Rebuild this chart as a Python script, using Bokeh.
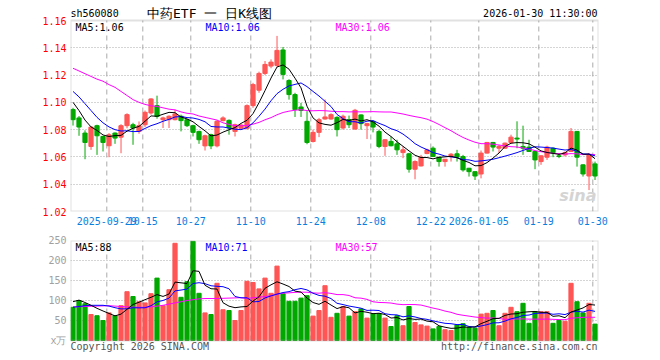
import numpy as np
from bokeh.plotting import figure
from bokeh.layouts import column
from bokeh.models import Range1d, FixedTicker, PrintfTickFormatter, Label, ColumnDataSource, BoxAnnotation
from bokeh.embed import file_html
from bokeh.resources import INLINE

# ---------------- data ----------------
dates = (
    ["2025-09-%02d" % d for d in [19, 22, 23, 24, 25, 26, 29, 30]]
    + ["2025-10-%02d" % d for d in [9, 10, 13, 14, 15, 16, 17, 20, 21, 22, 23, 24, 27, 28, 29, 30, 31]]
    + ["2025-11-%02d" % d for d in [3, 4, 5, 6, 7, 10, 11, 12, 13, 14, 17, 18, 19, 20, 21, 24, 25, 26, 27, 28]]
    + ["2025-12-%02d" % d for d in [1, 2, 3, 4, 5, 8, 9, 10, 11, 12, 15, 16, 17, 18, 19, 22, 23, 24, 25, 26, 29, 30, 31]]
    + ["2026-01-%02d" % d for d in [5, 6, 7, 8, 9, 12, 13, 14, 15, 16, 19, 20, 21, 22, 23, 26, 27, 28, 29, 30]]
)

opens = [1.0947, 1.0886, 1.0775, 1.0677, 1.0829, 1.0750, 1.0682, 1.0775, 1.0745, 1.0829,
         1.0836, 1.0787, 1.0836, 1.0922, 1.0976, 1.0873, 1.0873, 1.0873, 1.0898, 1.0873,
         1.0829, 1.0787, 1.0681, 1.0763, 1.0681, 1.0866, 1.0868, 1.0787, 1.0810, 1.0810,
         1.0976, 1.1089, 1.1212, 1.1266, 1.1271, 1.1384, 1.1160, 1.1057, 1.0966, 1.0861,
         1.0713, 1.0780, 1.0878, 1.0878, 1.0890, 1.0812, 1.0873, 1.0804, 1.0908, 1.0829,
         1.0861, 1.0787, 1.0677, 1.0714, 1.0696, 1.0632, 1.0623, 1.0510, 1.0534, 1.0625,
         1.0664, 1.0598, 1.0566, 1.0603, 1.0623, 1.0603, 1.0517, 1.0492, 1.0475, 1.0628,
         1.0706, 1.0664, 1.0664, 1.0706, 1.0738, 1.0677, 1.0672, 1.0640, 1.0566, 1.0598,
         1.0664, 1.0608, 1.0615, 1.0640, 1.0787, 1.0542, 1.0460, 1.0549]
highs = [1.0960, 1.0900, 1.0795, 1.0824, 1.0836, 1.0755, 1.0775, 1.0780, 1.0840, 1.0920,
         1.0850, 1.0860, 1.0940, 1.1030, 1.1049, 1.0895, 1.0905, 1.0947, 1.0910, 1.0878,
         1.0836, 1.0792, 1.0763, 1.0770, 1.0868, 1.0898, 1.0875, 1.0844, 1.0840, 1.0985,
         1.1143, 1.1225, 1.1303, 1.1315, 1.1487, 1.1406, 1.1170, 1.1070, 1.0996, 1.0935,
         1.0800, 1.0886, 1.1021, 1.0920, 1.0898, 1.0910, 1.0903, 1.0952, 1.0912, 1.0850,
         1.0868, 1.0800, 1.0730, 1.0750, 1.0726, 1.0677, 1.0630, 1.0575, 1.0615, 1.0660,
         1.0677, 1.0600, 1.0585, 1.0628, 1.0652, 1.0615, 1.0520, 1.0495, 1.0647, 1.0710,
         1.0710, 1.0689, 1.0705, 1.0763, 1.0861, 1.0829, 1.0726, 1.0645, 1.0612, 1.0682,
         1.0670, 1.0628, 1.0640, 1.0812, 1.0790, 1.0545, 1.0628, 1.0566]
lows = [1.0830, 1.0755, 1.0583, 1.0652, 1.0615, 1.0640, 1.0598, 1.0696, 1.0627, 1.0810,
        1.0689, 1.0770, 1.0820, 1.0910, 1.0880, 1.0812, 1.0812, 1.0868, 1.0787, 1.0819,
        1.0750, 1.0696, 1.0647, 1.0657, 1.0670, 1.0861, 1.0763, 1.0750, 1.0800, 1.0800,
        1.0960, 1.1070, 1.1200, 1.1250, 1.1260, 1.1168, 1.1020, 1.0893, 1.0893, 1.0693,
        1.0706, 1.0745, 1.0873, 1.0873, 1.0750, 1.0800, 1.0812, 1.0800, 1.0800, 1.0731,
        1.0780, 1.0664, 1.0608, 1.0677, 1.0615, 1.0591, 1.0485, 1.0436, 1.0530, 1.0620,
        1.0600, 1.0529, 1.0529, 1.0566, 1.0566, 1.0492, 1.0456, 1.0431, 1.0443, 1.0625,
        1.0640, 1.0628, 1.0660, 1.0700, 1.0664, 1.0615, 1.0640, 1.0510, 1.0542, 1.0578,
        1.0598, 1.0591, 1.0603, 1.0638, 1.0529, 1.0456, 1.0357, 1.0431]
closes = [1.0873, 1.0819, 1.0706, 1.0819, 1.0755, 1.0706, 1.0762, 1.0738, 1.0829, 1.0910,
          1.0812, 1.0829, 1.0927, 1.1025, 1.0897, 1.0886, 1.0898, 1.0915, 1.0866, 1.0829,
          1.0780, 1.0726, 1.0755, 1.0681, 1.0861, 1.0886, 1.0812, 1.0836, 1.0834, 1.0976,
          1.1130, 1.1212, 1.1278, 1.1295, 1.1381, 1.1205, 1.1057, 1.0947, 1.0941, 1.0706,
          1.0780, 1.0873, 1.0893, 1.0910, 1.0800, 1.0898, 1.0836, 1.0942, 1.0844, 1.0844,
          1.0819, 1.0677, 1.0726, 1.0682, 1.0652, 1.0652, 1.0510, 1.0566, 1.0598, 1.0652,
          1.0603, 1.0566, 1.0583, 1.0620, 1.0598, 1.0505, 1.0492, 1.0460, 1.0628, 1.0706,
          1.0672, 1.0677, 1.0701, 1.0745, 1.0731, 1.0664, 1.0640, 1.0578, 1.0608, 1.0672,
          1.0632, 1.0603, 1.0632, 1.0787, 1.0598, 1.0475, 1.0615, 1.0460]
volumes = [83, 100, 92, 65, 62, 50, 69, 62, 87, 122,
           110, 97, 94, 117, 156, 87, 127, 243, 108, 147,
           248, 118, 69, 65, 143, 77, 75, 50, 75, 148,
           145, 129, 156, 118, 186, 117, 98, 98, 106, 112,
           61, 75, 137, 58, 68, 85, 61, 72, 79, 56,
           67, 67, 56, 35, 62, 37, 85, 45, 39, 36,
           29, 35, 27, 25, 39, 42, 33, 31, 66, 68,
           75, 37, 68, 83, 72, 93, 43, 72, 72, 72,
           43, 50, 48, 143, 97, 69, 93, 41]

# moving-average values at the start of the window (history before the first candle)
ma5_head = [1.100, 1.094, 1.087, 1.082]
ma10_head = [1.108, 1.104, 1.099, 1.094, 1.089, 1.085, 1.082, 1.080, 1.079]
ma30_head = [1.125, 1.123, 1.121, 1.119, 1.117, 1.1155, 1.113, 1.111, 1.108, 1.105,
             1.102, 1.100, 1.0985, 1.0975, 1.097, 1.096, 1.095, 1.0945, 1.093, 1.092,
             1.0915, 1.090, 1.089, 1.088, 1.087, 1.085, 1.0838, 1.083, 1.0828]
vma5_head = [97, 101, 95, 88]
vma10_head = [83, 85, 87, 88, 88, 88, 86, 82, 79]
vma30_head = [84, 84.5, 85, 85.5, 86, 86.5, 87, 86, 85, 84,
              83.5, 83, 83, 84, 86, 88, 91, 94, 97, 100,
              102, 104, 105, 105, 105, 105.5, 106, 106.5, 107]

price_ticks = [1.02, 1.04, 1.06, 1.08, 1.10, 1.12, 1.14, 1.16]
vol_ticks = [0, 50, 100, 150, 200, 250]
tick_dates = ["2025-09-29", "2025-10-15", "2025-10-27", "2025-11-10", "2025-11-24",
              "2025-12-08", "2025-12-22", "2026-01-05", "2026-01-19", "2026-01-30"]
tick_labels = ["2025-09-29", "10-15", "10-27", "11-10", "11-24",
               "12-08", "12-22", "2026-01-05", "01-19", "01-30"]
price_ma_text = ["1.06", "1.06", "1.06"]
vol_ma_text = ["88", "71", "57"]

# ---------------- layout constants (pixels) ----------------
UP = "#ff5555"
DOWN = "#00a800"
GRID = "#aaaaaa"
BORDER = "#9a9a9a"
CANDLE_SHIFT = 0.37
FONT = "DejaVu Sans Mono"
HEADER_PX = 20       # header strip above the price panel
PRICE_PX = 191       # price panel height
VOL_PX = 100         # volume panel height
FOOTER_PX = 20       # footer strip below the volume panel

n = len(closes)
idx = np.arange(n)
xs = idx + CANDLE_SHIFT
o = np.array(opens); c = np.array(closes)
colors = [UP if cc >= oo else DOWN for oo, cc in zip(opens, closes)]


def moving(vals, k, head):
    v = np.array(vals, dtype=float)
    out = []
    for i in range(len(v)):
        if i < k - 1:
            out.append(head[i])
        else:
            out.append(v[i - k + 1:i + 1].mean())
    return out


src = ColumnDataSource(dict(
    x=xs, high=highs, low=lows, top=np.maximum(o, c), bottom=np.minimum(o, c),
    color=colors, vol=volumes,
    ma5=moving(closes, 5, ma5_head), ma10=moving(closes, 10, ma10_head), ma30=moving(closes, 30, ma30_head),
    vma5=moving(volumes, 5, vma5_head), vma10=moving(volumes, 10, vma10_head), vma30=moving(volumes, 30, vma30_head),
))

tick_idx = [dates.index(d) for d in tick_dates]

p_lo, p_hi = price_ticks[0], price_ticks[-1]
p_top = p_hi + (p_hi - p_lo) * HEADER_PX / PRICE_PX      # header strip lives inside the frame
v_lo, v_hi = vol_ticks[0], vol_ticks[-1]
v_bot = v_lo - (v_hi - v_lo) * FOOTER_PX / VOL_PX        # footer strip lives inside the frame

common = dict(output_backend="svg", toolbar_location=None, width=660,
              min_border_left=70, min_border_right=62,
              background_fill_color="white", border_fill_color="white")


def style_axis(ax, col):
    ax.axis_line_color = None
    ax.major_tick_line_color = None
    ax.minor_tick_line_color = None
    ax.major_tick_out = 0
    ax.major_tick_in = 0
    ax.major_label_text_color = col
    ax.major_label_text_font = FONT
    ax.major_label_text_font_size = "10px"


def lab(p, x, y, text, color="#000000", size="10px", align="left", baseline="middle", font=FONT, style="normal"):
    p.add_layout(Label(x=x, y=y, x_units="screen", y_units="screen", text=text,
                       text_color=color, text_font=font, text_font_size=size,
                       text_align=align, text_baseline=baseline, text_font_style=style))


# ---------------- price panel ----------------
p1 = figure(height=HEADER_PX + PRICE_PX + 21, min_border_top=0, min_border_bottom=21,
            x_range=Range1d(-0.05, 87.95), y_range=Range1d(p_lo, p_top), **common)
p1.outline_line_color = None

p1.xaxis.ticker = FixedTicker(ticks=tick_idx)
p1.xaxis.major_label_overrides = {i: t for i, t in zip(tick_idx, tick_labels)}
p1.yaxis.ticker = FixedTicker(ticks=price_ticks)
p1.yaxis.formatter = PrintfTickFormatter(format="%.2f")
style_axis(p1.xaxis, "#0a7fe0")
style_axis(p1.yaxis, "#ff0000")
p1.xaxis.major_label_standoff = 5
p1.yaxis.major_label_standoff = 4

p1.xgrid.grid_line_color = None
p1.ygrid.ticker = FixedTicker(ticks=price_ticks[1:-1])
p1.ygrid.grid_line_color = GRID
p1.ygrid.grid_line_dash = "1 2"
p1.ygrid.grid_line_width = 1
p1.segment(x0=tick_idx, y0=[p_lo] * len(tick_idx), x1=tick_idx, y1=[p_hi] * len(tick_idx),
           line_color=GRID, line_dash="5 4", line_width=1, level="underlay")
p1.add_layout(BoxAnnotation(bottom=p_lo, top=p_hi, fill_alpha=0, fill_color=None,
                            line_color=BORDER, line_width=2))

p1.segment("x", "high", "x", "low", color="color", line_width=1, source=src)
p1.vbar(x="x", width=0.7, top="top", bottom="bottom", fill_color="color", line_color="color", source=src)
p1.line("x", "ma30", color="#ff00ff", line_width=1, source=src)
p1.line("x", "ma10", color="#0000ff", line_width=1, source=src)
p1.line("x", "ma5", color="#000000", line_width=1, source=src)

top_y = PRICE_PX + HEADER_PX
lab(p1, 5, PRICE_PX - 1, "MA5:" + price_ma_text[0], "#000000", baseline="top")
lab(p1, 135, PRICE_PX - 1, "MA10:" + price_ma_text[1], "#0000ff", baseline="top")
lab(p1, 265, PRICE_PX - 1, "MA30:" + price_ma_text[2], "#ff00ff", baseline="top")
lab(p1, 0, top_y - 13, "sh560080")
lab(p1, 139, top_y - 13, "中药ETF 一 日K线图", size="13px", align="center")
lab(p1, 527, top_y - 13, "2026-01-30 11:30:00", align="right")
lab(p1, 526, 7, "sina", "#d4d4d4", size="16px", align="right", baseline="bottom", font="DejaVu Sans", style="bold italic")

# ---------------- volume panel ----------------
p2 = figure(height=8 + VOL_PX + FOOTER_PX, min_border_top=8, min_border_bottom=0, x_axis_location=None,
            x_range=p1.x_range, y_range=Range1d(v_bot, v_hi), **common)
p2.outline_line_color = None
p2.yaxis.ticker = FixedTicker(ticks=vol_ticks)
p2.yaxis.major_label_overrides = {0: "x万"}
style_axis(p2.yaxis, "#a0a0a0")
p2.yaxis.major_label_standoff = 4

p2.xgrid.grid_line_color = None
p2.ygrid.ticker = FixedTicker(ticks=vol_ticks[1:-1])
p2.ygrid.grid_line_color = GRID
p2.ygrid.grid_line_dash = "1 2"
p2.segment(x0=tick_idx, y0=[v_lo] * len(tick_idx), x1=tick_idx, y1=[v_hi] * len(tick_idx),
           line_color=GRID, line_dash="5 4", line_width=1, level="underlay")
p2.add_layout(BoxAnnotation(bottom=v_lo, top=v_hi, fill_alpha=0, fill_color=None,
                            line_color=BORDER, line_width=2))

p2.vbar(x="x", width=0.7, top="vol", bottom=0, fill_color="color", line_color="color", source=src)
p2.line("x", "vma30", color="#ff00ff", line_width=1, source=src)
p2.line("x", "vma10", color="#0000ff", line_width=1, source=src)
p2.line("x", "vma5", color="#000000", line_width=1, source=src)

vtop = VOL_PX + FOOTER_PX
lab(p2, 5, vtop - 1, "MA5:" + vol_ma_text[0], "#000000", baseline="top")
lab(p2, 135, vtop - 1, "MA10:" + vol_ma_text[1], "#0000ff", baseline="top")
lab(p2, 265, vtop - 1, "MA30:" + vol_ma_text[2], "#ff00ff", baseline="top")
lab(p2, 0, FOOTER_PX - 6, "Copyright 2026 SINA.COM", "#555555")
lab(p2, 527, FOOTER_PX - 6, "http://finance.sina.com.cn", "#555555", align="right")

layout = column(p1, p2, spacing=0)
open("out.html", "w").write(file_html(layout, INLINE))
